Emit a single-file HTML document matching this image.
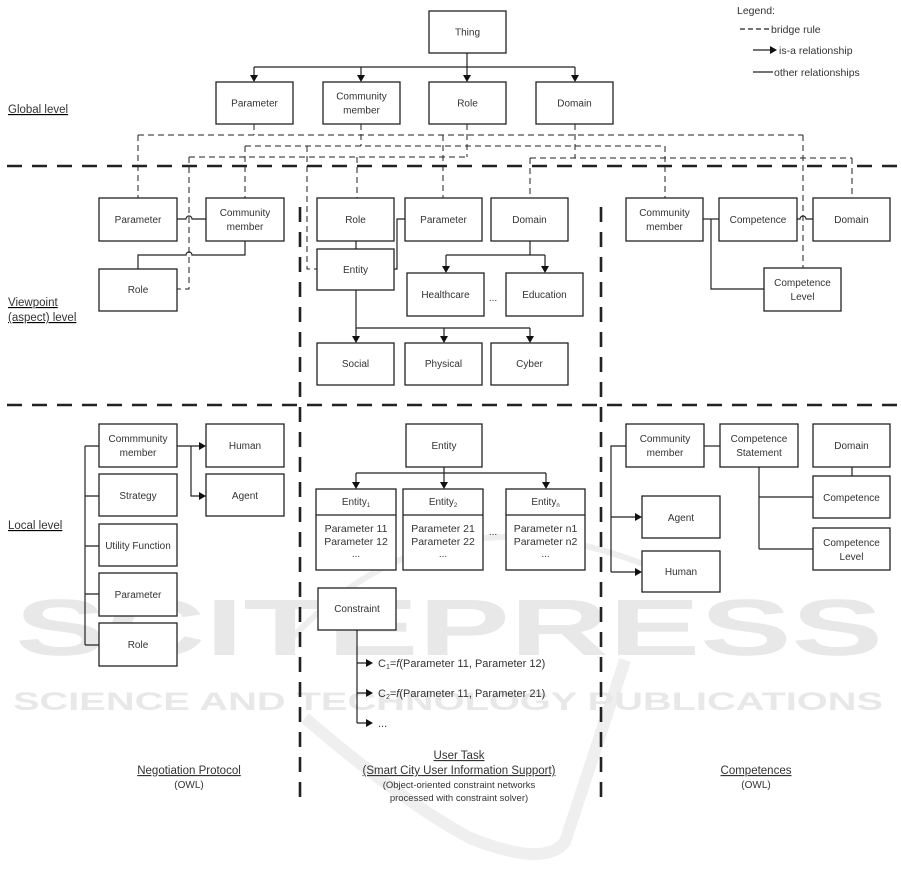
<!DOCTYPE html>
<html><head><meta charset="utf-8"><style>
html,body{margin:0;padding:0;background:#fff;}
svg{display:block;}
text{font-family:"Liberation Sans",Arial,sans-serif;fill:#333;}
</style></head><body>
<svg width="901" height="886" viewBox="0 0 901 886" xmlns="http://www.w3.org/2000/svg">
<!-- watermark -->
<g>
<path d="M290,640 Q450,470 680,580" fill="none" stroke="#eeeeee" stroke-width="6"/>
<path d="M305,718 Q400,800 470,838 Q545,868 565,842 L625,660" fill="none" stroke="#efefef" stroke-width="12"/>
<text x="15" y="655" font-size="80" font-weight="bold" textLength="868" lengthAdjust="spacingAndGlyphs" style="fill:#e8e8e8">SCITEPRESS</text>
<text x="13" y="710" font-size="25" font-weight="bold" textLength="870" lengthAdjust="spacingAndGlyphs" style="fill:#e8e8e8">SCIENCE AND TECHNOLOGY PUBLICATIONS</text>
</g>

<!-- thick level separators -->
<g stroke="#222" stroke-width="2.6" fill="none" stroke-dasharray="15 10">
<line x1="7" y1="166" x2="901" y2="166"/>
<line x1="7" y1="405" x2="901" y2="405"/>
<line x1="300" y1="207" x2="300" y2="803"/>
<line x1="601" y1="207" x2="601" y2="803"/>
</g>

<!-- bridge rules (dashed) -->
<g stroke="#222" stroke-width="1" fill="none" stroke-dasharray="6 4">
<path d="M254,124 V135"/>
<path d="M138,135 H803"/>
<path d="M138,135 V198"/>
<path d="M443,135 V198"/>
<path d="M803,135 V268"/>
<path d="M361,124 V146"/>
<path d="M245,146 H665"/>
<path d="M245,146 V198"/>
<path d="M307,146 V269 H317"/>
<path d="M665,146 V198"/>
<path d="M467,124 V157"/>
<path d="M189,157 H467"/>
<path d="M189,157 V289 H177"/>
<path d="M357,157 V198"/>
<path d="M575,124 V158"/>
<path d="M530,158 H852"/>
<path d="M530,158 V198"/>
<path d="M852,158 V198"/>
</g>

<!-- solid connectors -->
<g stroke="#222" stroke-width="1.2" fill="none">
<path d="M467,53 V76"/>
<path d="M254,67 H575"/>
<path d="M254,67 V76 M361,67 V76 M575,67 V76"/>
<path d="M177,219 H186 A3,3 0 0 1 192,219 H206"/>
<path d="M245,241 V255 H192 A3,3 0 0 0 186,255 H138 V269"/>
<path d="M356,241 V249"/>
<path d="M405,219 H397 V269 H394"/>
<path d="M530,241 V255 M446,255 H545 M446,255 V267 M545,255 V267"/>
<path d="M356,290 V328 H530 M444,328 V337 M530,328 V337 M356,328 V337"/>
<path d="M703,219 H719"/>
<path d="M711,219 V289 H764"/>
<path d="M797,219 H800 A3,3 0 0 1 806,219 H813"/>
<path d="M85,446 V645 M85,446 H99 M85,496 H99 M85,546 H99 M85,594 H99 M85,645 H99"/>
<path d="M177,446 H200 M191,446 V496 H200"/>
<path d="M444,467 V473 M356,473 H546 M356,473 V483 M444,473 V483 M546,473 V483"/>
<path d="M357,630 V723 M357,663 H367 M357,693 H367 M357,723 H367"/>
<path d="M704,446 H720"/>
<path d="M626,446 H611 V572 M611,517 H636 M611,572 H636"/>
<path d="M852,467 V476"/>
<path d="M759,467 V549 M759,497 H813 M759,549 H813"/>
<path d="M753,50 H771"/>
<path d="M753,72 H773"/>
</g>
<g stroke="#222" stroke-width="1.2" fill="none" stroke-dasharray="5 3">
<path d="M740,29 H770"/>
</g>

<!-- arrowheads -->
<g fill="#111" stroke="none">
<polygon points="250,75 258,75 254,82"/>
<polygon points="357,75 365,75 361,82"/>
<polygon points="463,75 471,75 467,82"/>
<polygon points="571,75 579,75 575,82"/>
<polygon points="442,266 450,266 446,273"/>
<polygon points="541,266 549,266 545,273"/>
<polygon points="352,336 360,336 356,343"/>
<polygon points="440,336 448,336 444,343"/>
<polygon points="526,336 534,336 530,343"/>
<polygon points="199,442 199,450 206,446"/>
<polygon points="199,492 199,500 206,496"/>
<polygon points="352,482 360,482 356,489"/>
<polygon points="440,482 448,482 444,489"/>
<polygon points="542,482 550,482 546,489"/>
<polygon points="366,659 366,667 373,663"/>
<polygon points="366,689 366,697 373,693"/>
<polygon points="366,719 366,727 373,723"/>
<polygon points="635,513 635,521 642,517"/>
<polygon points="635,568 635,576 642,572"/>
<polygon points="770,46 770,54 777,50"/>
</g>

<!-- boxes -->
<g fill="#fff" stroke="#222" stroke-width="1.3">
<rect x="429" y="11" width="77" height="42"/>
<rect x="216" y="82" width="77" height="42"/>
<rect x="323" y="82" width="77" height="42"/>
<rect x="429" y="82" width="77" height="42"/>
<rect x="536" y="82" width="77" height="42"/>
<rect x="99" y="198" width="78" height="43"/>
<rect x="206" y="198" width="78" height="43"/>
<rect x="99" y="269" width="78" height="42"/>
<rect x="317" y="198" width="77" height="43"/>
<rect x="405" y="198" width="77" height="43"/>
<rect x="491" y="198" width="77" height="43"/>
<rect x="317" y="249" width="77" height="41"/>
<rect x="407" y="273" width="77" height="43"/>
<rect x="506" y="273" width="77" height="43"/>
<rect x="317" y="343" width="77" height="42"/>
<rect x="405" y="343" width="77" height="42"/>
<rect x="491" y="343" width="77" height="42"/>
<rect x="626" y="198" width="77" height="43"/>
<rect x="719" y="198" width="78" height="43"/>
<rect x="813" y="198" width="77" height="43"/>
<rect x="764" y="268" width="77" height="43"/>
<rect x="99" y="424" width="78" height="43"/>
<rect x="99" y="474" width="78" height="42"/>
<rect x="99" y="524" width="78" height="42"/>
<rect x="99" y="573" width="78" height="43"/>
<rect x="99" y="623" width="78" height="43"/>
<rect x="206" y="424" width="78" height="43"/>
<rect x="206" y="474" width="78" height="42"/>
<rect x="406" y="424" width="76" height="43"/>
<rect x="316" y="489" width="80" height="81"/>
<rect x="403" y="489" width="80" height="81"/>
<rect x="506" y="489" width="79" height="81"/>
<rect x="318" y="588" width="78" height="42"/>
<rect x="626" y="424" width="78" height="43"/>
<rect x="720" y="424" width="78" height="43"/>
<rect x="813" y="424" width="77" height="43"/>
<rect x="813" y="476" width="77" height="42"/>
<rect x="813" y="528" width="77" height="42"/>
<rect x="642" y="496" width="78" height="42"/>
<rect x="642" y="551" width="78" height="41"/>
</g>
<g stroke="#222" stroke-width="1.2">
<line x1="316" y1="515" x2="396" y2="515"/>
<line x1="403" y1="515" x2="483" y2="515"/>
<line x1="506" y1="515" x2="585" y2="515"/>
</g>

<!-- box labels -->
<g font-size="10" text-anchor="middle">
<text x="467.5" y="35.5">Thing</text>
<text x="254.5" y="106.5">Parameter</text>
<text x="361.5" y="99.5">Community</text>
<text x="361.5" y="113.5">member</text>
<text x="467.5" y="106.5">Role</text>
<text x="574.5" y="106.5">Domain</text>

<text x="138" y="223">Parameter</text>
<text x="245" y="216">Community</text>
<text x="245" y="230">member</text>
<text x="138" y="293">Role</text>

<text x="355.5" y="223">Role</text>
<text x="443.5" y="223">Parameter</text>
<text x="529.5" y="223">Domain</text>
<text x="355.5" y="273">Entity</text>
<text x="445.5" y="298">Healthcare</text>
<text x="544.5" y="298">Education</text>
<text x="493" y="301">...</text>
<text x="355.5" y="367">Social</text>
<text x="443.5" y="367">Physical</text>
<text x="529.5" y="367">Cyber</text>

<text x="664.5" y="216">Community</text>
<text x="664.5" y="230">member</text>
<text x="758" y="223">Competence</text>
<text x="851.5" y="223">Domain</text>
<text x="802.5" y="286">Competence</text>
<text x="802.5" y="300">Level</text>

<text x="138" y="442">Commmunity</text>
<text x="138" y="456">member</text>
<text x="138" y="499">Strategy</text>
<text x="138" y="549">Utility Function</text>
<text x="138" y="598">Parameter</text>
<text x="138" y="648">Role</text>
<text x="245" y="449">Human</text>
<text x="245" y="499">Agent</text>

<text x="444" y="449">Entity</text>
<text x="356" y="505">Entity<tspan font-size="6" dy="2">1</tspan></text>
<text x="443" y="505">Entity<tspan font-size="6" dy="2">2</tspan></text>
<text x="545.5" y="505">Entity<tspan font-size="6" dy="2">n</tspan></text>
<text x="356" y="532" font-size="10.5">Parameter 11</text>
<text x="356" y="545" font-size="10.5">Parameter 12</text>
<text x="356" y="557">...</text>
<text x="443" y="532" font-size="10.5">Parameter 21</text>
<text x="443" y="545" font-size="10.5">Parameter 22</text>
<text x="443" y="557">...</text>
<text x="545.5" y="532" font-size="10.5">Parameter n1</text>
<text x="545.5" y="545" font-size="10.5">Parameter n2</text>
<text x="545.5" y="557">...</text>
<text x="493" y="535">...</text>
<text x="357" y="612">Constraint</text>

<text x="665" y="442">Community</text>
<text x="665" y="456">member</text>
<text x="759" y="442">Competence</text>
<text x="759" y="456">Statement</text>
<text x="851.5" y="449">Domain</text>
<text x="851.5" y="501">Competence</text>
<text x="851.5" y="546">Competence</text>
<text x="851.5" y="560">Level</text>
<text x="681" y="521">Agent</text>
<text x="681" y="575">Human</text>
</g>

<!-- constraint formulas -->
<g font-size="11">
<text x="378" y="667">C<tspan font-size="7" dy="2">1</tspan><tspan dy="-2">=</tspan><tspan font-style="italic">f</tspan>(Parameter 11, Parameter 12)</text>
<text x="378" y="697">C<tspan font-size="7" dy="2">2</tspan><tspan dy="-2">=</tspan><tspan font-style="italic">f</tspan>(Parameter 11, Parameter 21)</text>
<text x="378" y="727">...</text>
</g>

<!-- level labels -->
<g font-size="11.5" text-decoration="underline">
<text x="8" y="113">Global level</text>
<text x="8" y="306">Viewpoint</text>
<text x="8" y="321">(aspect) level</text>
<text x="8" y="529">Local level</text>
</g>

<!-- column captions -->
<g text-anchor="middle">
<text x="189" y="774" font-size="11.5" text-decoration="underline">Negotiation Protocol</text>
<text x="189" y="788" font-size="10">(OWL)</text>
<text x="459" y="759" font-size="11.5" text-decoration="underline">User Task</text>
<text x="459" y="774" font-size="11.5" text-decoration="underline">(Smart City User Information Support)</text>
<text x="459" y="788" font-size="9.5">(Object-oriented constraint networks</text>
<text x="459" y="801" font-size="9.5">processed with constraint solver)</text>
<text x="756" y="774" font-size="11.5" text-decoration="underline">Competences</text>
<text x="756" y="788" font-size="10">(OWL)</text>
</g>

<!-- legend -->
<g font-size="10.5">
<text x="737" y="14">Legend:</text>
<text x="771" y="33">bridge rule</text>
<text x="779" y="54">is-a relationship</text>
<text x="774" y="76">other relationships</text>
</g>
</svg>
</body></html>
